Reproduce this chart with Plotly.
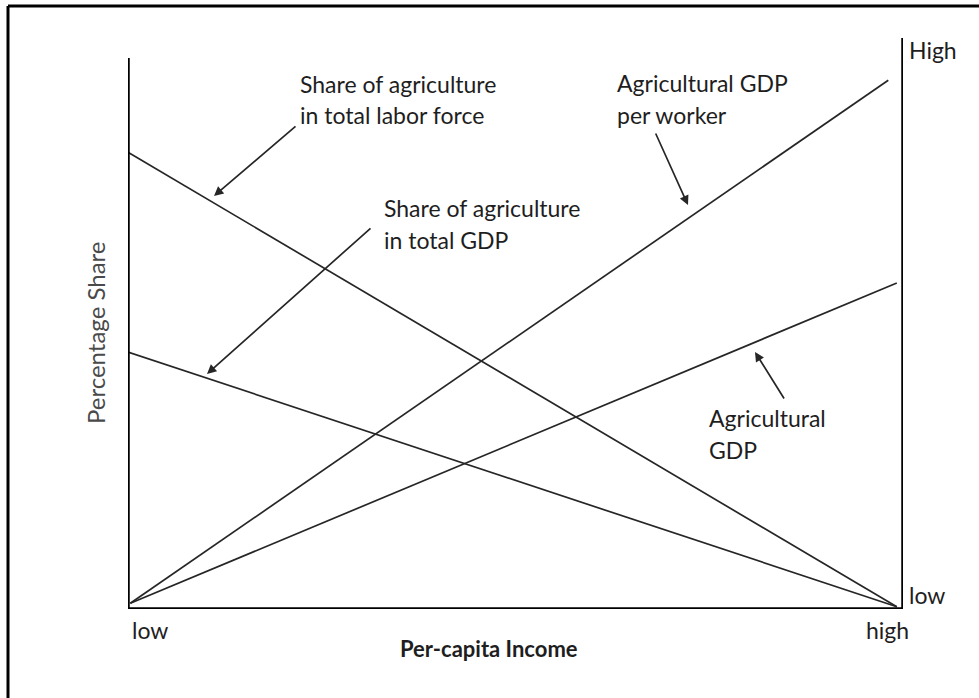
import plotly.graph_objects as go

# ---- data (conceptual chart: 0..100 scale on both axes) ----
income_labels = ["low", "high"]
level_labels = ["low", "High"]
series_names = ["Share of agriculture in total labor force",
                "Share of agriculture in total GDP",
                "Agricultural GDP per worker",
                "Agricultural GDP"]
labor_x = [0, 99.2]
labor_y = [80.0, 0.4]
gdpshare_x = [0, 99.2]
gdpshare_y = [45.0, 0.4]
perworker_x = [0.3, 98.1]
perworker_y = [1.0, 92.6]
agrigdp_x = [0.3, 99.2]
agrigdp_y = [1.0, 57.1]

W, H = 979, 698
L, R, T, B = 128, 903, 38, 609

def px(x):
    return (x - L) / (R - L)

def py(y):
    return (B - y) / (B - T)

def dx(x):
    return (x - L) / (R - L) * 100

def dy(y):
    return (B - y) / (B - T) * 100

FONT = "Lato"
TXT = "#1e1e1e"
LINE = "#262626"
FS = 23

fig = go.Figure()
for xs, ys, nm in [(labor_x, labor_y, series_names[0]),
                   (gdpshare_x, gdpshare_y, series_names[1]),
                   (perworker_x, perworker_y, series_names[2]),
                   (agrigdp_x, agrigdp_y, series_names[3])]:
    fig.add_trace(go.Scatter(x=xs, y=ys, mode="lines", name=nm,
                             line=dict(color=LINE, width=1.7),
                             hoverinfo="skip", showlegend=False))

shapes = [
    # axes
    dict(type="line", xref="x", yref="y", x0=0, x1=0, y0=0, y1=dy(58),
         line=dict(color="black", width=3.5)),
    dict(type="line", xref="x", yref="y", x0=-0.2, x1=100, y0=0, y1=0,
         line=dict(color="black", width=3.5)),
    dict(type="line", xref="x", yref="y", x0=100, x1=100, y0=0, y1=100,
         line=dict(color="black", width=3.5)),
    # image frame (top and left edges)
    dict(type="line", xref="paper", yref="paper", x0=px(8), x1=px(W + 5),
         y0=py(6), y1=py(6), line=dict(color="black", width=3)),
    dict(type="line", xref="paper", yref="paper", x0=px(8), x1=px(8),
         y0=py(6), y1=py(H + 5), line=dict(color="black", width=3)),
]

ann = []

def text(t, x, y, size=FS, xanchor="left", bold=False, color=TXT, angle=0):
    if bold:
        t = "<b>" + t + "</b>"
    ann.append(dict(text=t, xref="paper", yref="paper", x=px(x), y=py(y),
                    xanchor=xanchor, yanchor="middle", showarrow=False,
                    textangle=angle,
                    font=dict(family=FONT, size=size, color=color)))

def arrow(hx, hy, tx, ty):
    ann.append(dict(text="", x=dx(hx), y=dy(hy), xref="x", yref="y",
                    ax=tx - hx, ay=ty - hy, showarrow=True,
                    arrowhead=2, arrowsize=1.1, arrowwidth=1.7,
                    arrowcolor=LINE))

text("Share of agriculture", 298, 84)
text("in total labor force", 298, 115)
text("Share of agriculture", 382, 208)
text("in total GDP", 382, 240)
text("Agricultural GDP", 615, 83)
text("per worker", 615, 115)
text("Agricultural", 707, 418)
text("GDP", 707, 450)
text(level_labels[1], 907, 50)
text(level_labels[0], 907, 595)
text(income_labels[0], 130, 630)
text(income_labels[1], 887, 630, xanchor="center")
text("Per-capita Income", 398, 648, bold=True, size=22)
text("Percentage Share", 95, 333, size=24, xanchor="center", color="#4a4a4a", angle=-90)

arrow(214, 196, 297, 125)
arrow(207, 374, 372, 227)
arrow(688, 205, 655, 132)
arrow(755, 352, 785, 400)

fig.update_layout(
    width=W, height=H,
    margin=dict(l=L, r=W - R, t=T, b=H - B, pad=0),
    paper_bgcolor="white", plot_bgcolor="white",
    xaxis=dict(range=[0, 100], visible=False, fixedrange=True),
    yaxis=dict(range=[0, 100], visible=False, fixedrange=True),
    shapes=shapes, annotations=ann,
)

fig.write_html("out.html", config={"displayModeBar": False},
               post_script="document.body.style.margin='0';document.body.style.overflow='hidden';")
